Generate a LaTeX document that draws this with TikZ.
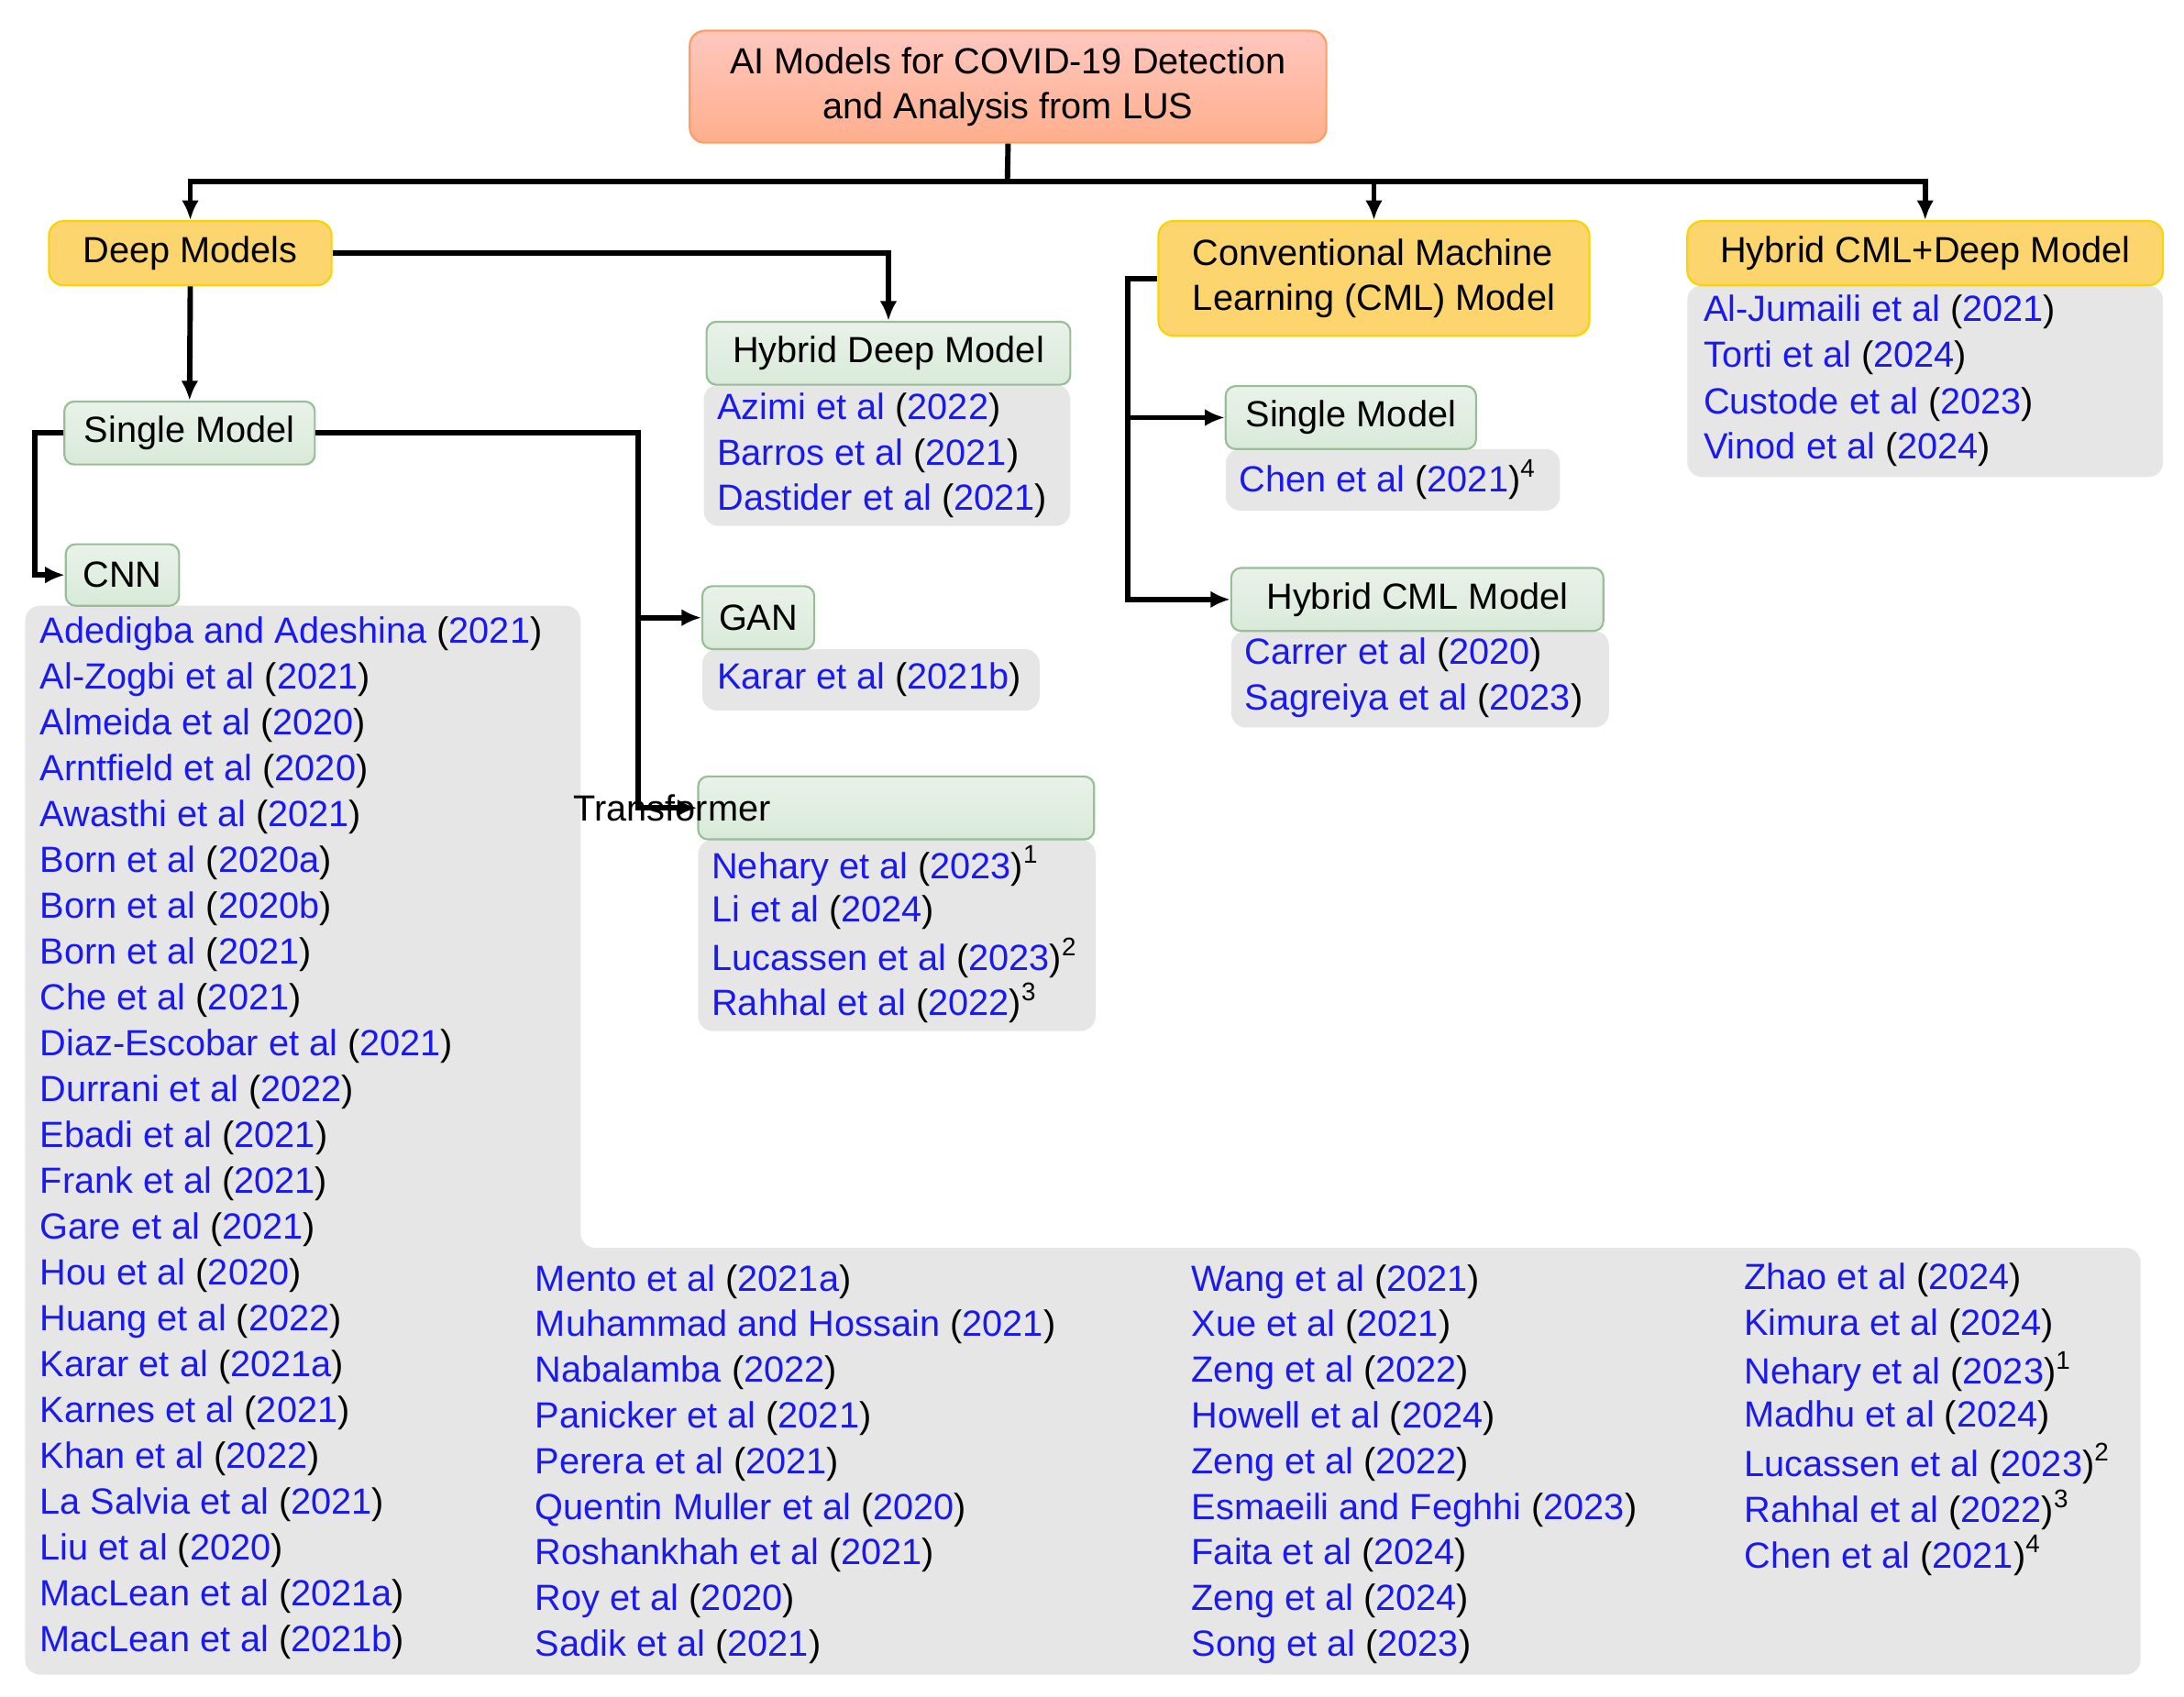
\documentclass[tikz,border=0pt]{standalone}
\usepackage{fontspec}
\setmainfont{Liberation Sans}
\usetikzlibrary{arrows.meta}
\definecolor{cb}{HTML}{1A1AF0}
\definecolor{listbg}{HTML}{E6E6E6}
\newcommand{\ct}[2]{\textcolor{cb}{#1} (\textcolor{cb}{#2})}
\newcommand{\sps}[1]{\textsuperscript{#1}}
\begin{document}
\begin{tikzpicture}[x=0.01cm,y=-0.01cm,
  every node/.style={font=\fontsize{7.4pt}{9.2pt}\selectfont, inner sep=0pt},
  title/.style={draw=orange!70!red!60, top color=orange!25!red!25!white, bottom color=orange!60!red!45!white, rounded corners=3pt, line width=0.4pt, align=center},
  yel/.style={draw=yellow!70!orange, fill=yellow!45!orange!55!white, rounded corners=3pt, line width=0.4pt},
  grn/.style={draw=green!35!black!40, top color=green!40!black!10!white!85, bottom color=green!45!black!25!white!60, rounded corners=2pt, line width=0.4pt},
  lst/.style={fill=listbg, rounded corners=3pt},
  it/.style={anchor=west},
  conn/.style={line width=1.1pt},
  arr/.style={conn,-{Latex[length=4pt,width=3.5pt]}}]
\useasboundingbox (0,0) rectangle (1561,1213);
% list backgrounds
\fill[lst] (18,433) -- (415,433) -- (415,892) -- (1530,892) -- (1530,1197) -- (18,1197) -- cycle;
\fill[lst] (503,275) rectangle (765,376);
\fill[lst] (502,464) rectangle (743,508);
\fill[lst] (499,600) rectangle (783,737);
\fill[lst] (876,321) rectangle (1115,365);
\fill[lst] (880,451) rectangle (1150,520);
\fill[lst] (1206,204) rectangle (1546,341);
% boxes
\node[title, minimum width=455*0.01cm, minimum height=80*0.01cm] (title) at (720.5,62) {AI Models for COVID-19 Detection\\and Analysis from LUS};
\node[yel, minimum width=202*0.01cm, minimum height=46*0.01cm] (deep) at (136,181) {Deep Models};
\node[yel, minimum width=308*0.01cm, minimum height=82*0.01cm, align=left] (cml) at (982,199) {Conventional Machine\\Learning (CML) Model};
\node[yel, minimum width=340*0.01cm, minimum height=46*0.01cm] (hcd) at (1376,181) {Hybrid CML+Deep Model};
\node[grn, minimum width=260*0.01cm, minimum height=45*0.01cm] (hdm) at (635,252.5) {Hybrid Deep Model};
\node[grn, minimum width=179*0.01cm, minimum height=45*0.01cm] (sm) at (135.5,309.5) {Single Model};
\node[grn, minimum width=81*0.01cm, minimum height=44*0.01cm] (cnn) at (87.5,411) {CNN};
\node[grn, minimum width=80*0.01cm, minimum height=45*0.01cm] (gan) at (542,441.5) {GAN};
\node[grn, minimum width=283*0.01cm, minimum height=45*0.01cm] (tr) at (640.5,577.5) {\hspace*{-3.2cm}Transformer};
\node[grn, minimum width=179*0.01cm, minimum height=45*0.01cm] (csm) at (965.5,298.5) {Single Model};
\node[grn, minimum width=266*0.01cm, minimum height=45*0.01cm] (hcml) at (1013,428.5) {Hybrid CML Model};
% connectors
\coordinate (bus) at (720,130);
\draw[conn] (title.south) -- (bus);
\draw[arr] (bus) -| (deep.north);
\draw[arr] (bus) -| (cml.north);
\draw[arr] (bus) -| (hcd.north);
\draw[arr] (deep.east) -| (hdm.north);
\draw[arr] (deep.south) -- (sm.north);
\coordinate (l1) at (25,309.5);
\draw[arr] (sm.west) -- (l1) |- (cnn.west);
\coordinate (r1) at (456,309.5);
\coordinate (r2) at (456,441.5);
\draw[arr] (sm.east) -- (r1) |- (gan.west);
\draw[arr] (r2) |- (tr.west);
\coordinate (c1) at (806,199);
\coordinate (c2) at (806,298.5);
\draw[arr] (cml.west) -- (c1) |- (csm.west);
\draw[arr] (c2) |- (hcml.west);
% hybrid deep list
\node[it] at (512,293) {\ct{Azimi et al}{2022}};
\node[it] at (512,326) {\ct{Barros et al}{2021}};
\node[it] at (512,358) {\ct{Dastider et al}{2021}};
\node[it] at (512,486) {\ct{Karar et al}{2021b}};
\node[it] at (508,619) {\ct{Nehary et al}{2023}\sps{1}};
\node[it] at (508,652) {\ct{Li et al}{2024}};
\node[it] at (508,685) {\ct{Lucassen et al}{2023}\sps{2}};
\node[it] at (508,717) {\ct{Rahhal et al}{2022}\sps{3}};
\node[it] at (885,343) {\ct{Chen et al}{2021}\sps{4}};
\node[it] at (889,468) {\ct{Carrer et al}{2020}};
\node[it] at (889,501) {\ct{Sagreiya et al}{2023}};
\node[it] at (1217,223) {\ct{Al-Jumaili et al}{2021}};
\node[it] at (1217,256) {\ct{Torti et al}{2024}};
\node[it] at (1217,289) {\ct{Custode et al}{2023}};
\node[it] at (1217,321) {\ct{Vinod et al}{2024}};
% CNN col 1
\foreach \t [count=\i from 0] in {
 {\ct{Adedigba and Adeshina}{2021}},{\ct{Al-Zogbi et al}{2021}},{\ct{Almeida et al}{2020}},
 {\ct{Arntfield et al}{2020}},{\ct{Awasthi et al}{2021}},{\ct{Born et al}{2020a}},
 {\ct{Born et al}{2020b}},{\ct{Born et al}{2021}},{\ct{Che et al}{2021}},
 {\ct{Diaz-Escobar et al}{2021}},{\ct{Durrani et al}{2022}},{\ct{Ebadi et al}{2021}},
 {\ct{Frank et al}{2021}},{\ct{Gare et al}{2021}},{\ct{Hou et al}{2020}},
 {\ct{Huang et al}{2022}},{\ct{Karar et al}{2021a}},{\ct{Karnes et al}{2021}},
 {\ct{Khan et al}{2022}},{\ct{La Salvia et al}{2021}},{\ct{Liu et al}{2020}},
 {\ct{MacLean et al}{2021a}},{\ct{MacLean et al}{2021b}}}
 \node[it] at (28,453+32.77*\i) {\t};
\foreach \t [count=\i from 0] in {
 {\ct{Mento et al}{2021a}},{\ct{Muhammad and Hossain}{2021}},{\ct{Nabalamba}{2022}},
 {\ct{Panicker et al}{2021}},{\ct{Perera et al}{2021}},{\ct{Quentin Muller et al}{2020}},
 {\ct{Roshankhah et al}{2021}},{\ct{Roy et al}{2020}},{\ct{Sadik et al}{2021}}}
 \node[it] at (382,916+32.65*\i) {\t};
\foreach \t [count=\i from 0] in {
 {\ct{Wang et al}{2021}},{\ct{Xue et al}{2021}},{\ct{Zeng et al}{2022}},
 {\ct{Howell et al}{2024}},{\ct{Zeng et al}{2022}},{\ct{Esmaeili and Feghhi}{2023}},
 {\ct{Faita et al}{2024}},{\ct{Zeng et al}{2024}},{\ct{Song et al}{2023}}}
 \node[it] at (851,916+32.65*\i) {\t};
\foreach \t [count=\i from 0] in {
 {\ct{Zhao et al}{2024}},{\ct{Kimura et al}{2024}},{\ct{Nehary et al}{2023}\sps{1}},
 {\ct{Madhu et al}{2024}},{\ct{Lucassen et al}{2023}\sps{2}},{\ct{Rahhal et al}{2022}\sps{3}},
 {\ct{Chen et al}{2021}\sps{4}}}
 \node[it] at (1246,915+32.8*\i) {\t};
\end{tikzpicture}
\end{document}
